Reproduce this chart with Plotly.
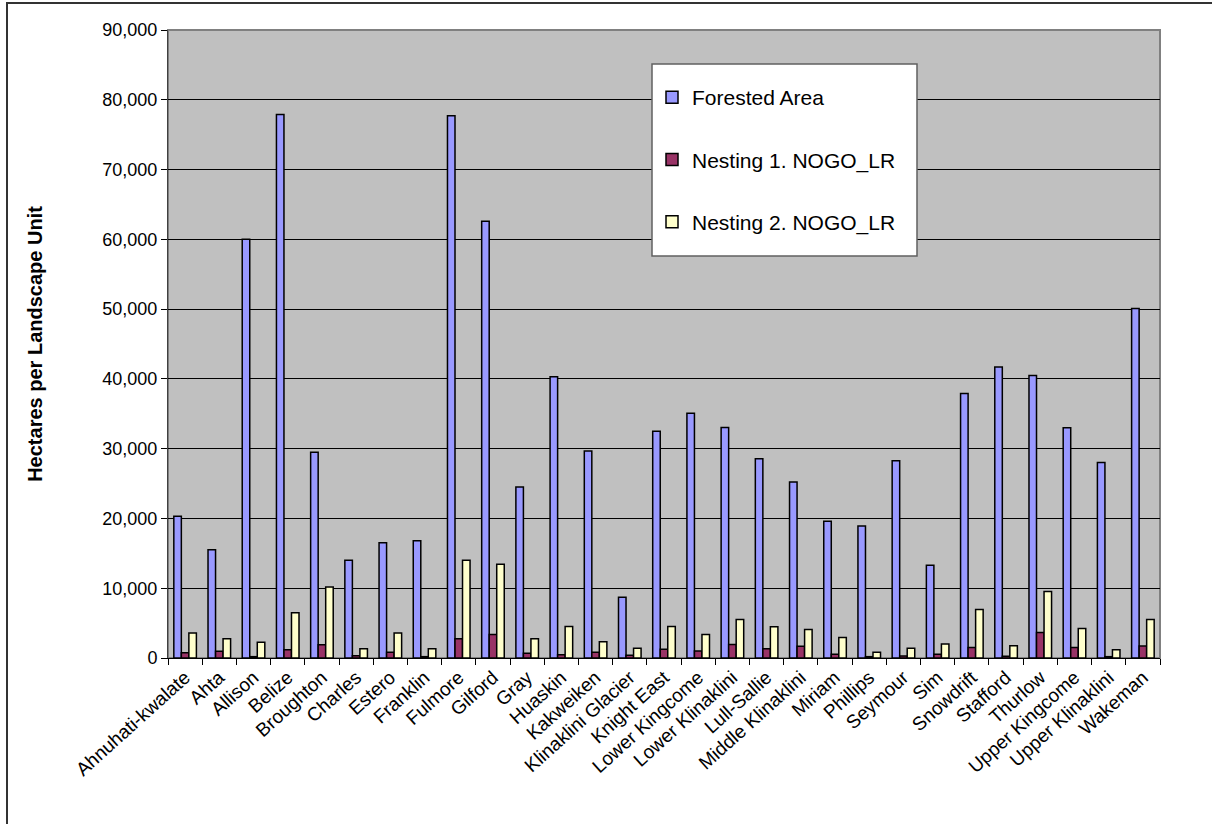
import plotly.graph_objects as go

categories = ["Ahnuhati-kwalate", "Ahta", "Allison", "Belize", "Broughton", "Charles", "Estero",
              "Franklin", "Fulmore", "Gilford", "Gray", "Huaskin", "Kakweiken", "Klinaklini Glacier",
              "Knight East", "Lower Kingcome", "Lower Klinaklini", "Lull-Sallie", "Middle Klinaklini",
              "Miriam", "Phillips", "Seymour", "Sim", "Snowdrift", "Stafford", "Thurlow",
              "Upper Kingcome", "Upper Klinaklini", "Wakeman"]

forested = [20300, 15500, 60000, 77900, 29500, 14000, 16500, 16800, 77700, 62600, 24500, 40300,
            29650, 8700, 32480, 35060, 33050, 28570, 25240, 19610, 18900, 28280, 13300, 37900,
            41700, 40500, 33000, 28000, 50100]
nesting1 = [760, 950, 190, 1190, 1900, 330, 810, 190, 2760, 3380, 670, 480, 810, 380, 1240, 1000,
            1950, 1330, 1670, 520, 190, 290, 520, 1520, 240, 3670, 1520, 190, 1710]
nesting2 = [3570, 2760, 2240, 6480, 10190, 1330, 3570, 1330, 14000, 13430, 2760, 4520, 2330, 1380,
            4520, 3380, 5520, 4480, 4100, 2950, 810, 1380, 2000, 6950, 1760, 9520, 4240, 1190, 5520]

series_names = ["Forested Area", "Nesting 1. NOGO_LR", "Nesting 2. NOGO_LR"]
series_colors = ["#9999FF", "#993366", "#FFFFCC"]
y_ticks = [0, 10000, 20000, 30000, 40000, 50000, 60000, 70000, 80000, 90000]

FONT = "Liberation Sans, Arial, sans-serif"

fig = go.Figure()
for name, vals, col in zip(series_names, [forested, nesting1, nesting2], series_colors):
    fig.add_trace(go.Bar(x=categories, y=vals, name=name, legendgroup=name,
                         marker=dict(color=col, line=dict(color="black", width=1.5))))

# plot area pixel geometry
W, H = 1212, 824
L, R, T, B = 168, 52, 30, 166
pw, ph = W - L - R, H - T - B

def px_x(p):
    return (p - L) / pw

def px_y(p):
    return (H - B - p) / ph

fig.update_layout(
    width=W, height=H,
    margin=dict(l=L, r=R, t=T, b=B, pad=0),
    paper_bgcolor="white",
    plot_bgcolor="#C0C0C0",
    barmode="group",
    bargap=0.34,
    bargroupgap=0,
    font=dict(family=FONT, color="black", size=18),
    showlegend=True,
    legend=dict(
        x=px_x(652), y=px_y(77), xanchor="left", yanchor="top",
        bgcolor="rgba(0,0,0,0)", borderwidth=0,
        font=dict(family=FONT, size=21, color="black"),
        traceorder="grouped", tracegroupgap=32,
    ),
    xaxis=dict(
        type="category",
        tickangle=-42,
        tickson="boundaries",
        ticks="outside", ticklen=6, tickcolor="black",
        showline=True, linecolor="black", linewidth=1,
        showgrid=False,
        tickfont=dict(family=FONT, size=19, color="black"),
    ),
    yaxis=dict(
        range=[0, 90000],
        tickvals=y_ticks,
        tickformat=",",
        ticks="outside", ticklen=6, tickcolor="black",
        showline=True, linecolor="#404040", linewidth=1,
        showgrid=True, gridcolor="black", gridwidth=1,
        zeroline=False,
        tickfont=dict(family=FONT, size=18, color="black"),
        title=dict(text="<b>Hectares per Landscape Unit</b>", standoff=54,
                   font=dict(family=FONT, size=20, color="black")),
    ),
    shapes=[
        # plot area border (top/right gray)
        dict(type="rect", xref="paper", yref="paper", x0=0, x1=1, y0=0, y1=1,
             line=dict(color="#808080", width=2), fillcolor="rgba(0,0,0,0)", layer="below"),
        # legend box
        dict(type="rect", xref="paper", yref="paper",
             x0=px_x(652), x1=px_x(917), y0=px_y(256), y1=px_y(64),
             line=dict(color="#606060", width=1.5), fillcolor="white", layer="above"),
        # outer chart frame
        dict(type="rect", xref="paper", yref="paper",
             x0=px_x(7), x1=px_x(1230), y0=px_y(840), y1=px_y(3),
             line=dict(color="#333333", width=2), fillcolor="rgba(0,0,0,0)", layer="above"),
    ],
)

fig.write_html("out.html")
